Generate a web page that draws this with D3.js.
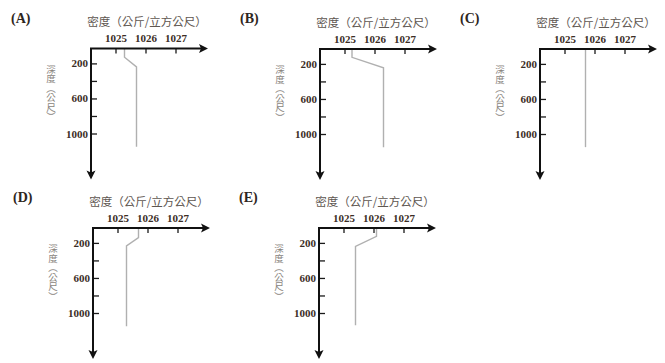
<!DOCTYPE html>
<meta charset="utf-8">
<script src="https://d3js.org/d3.v7.min.js"></script>
<style>
  body { margin: 0; background: #fff; }
</style>
<div id="chart"></div>
<script>

// data
var panelNames = ["A", "B", "C", "D", "E"];
var densityTicks = [1025, 1026, 1027];
var depthTicks = [200, 400, 600, 800, 1000];
var depthLabels = [200, 600, 1000];

// each profile: [depth (m), density (kg/m3)]
var profileA = [[30, 1025.3], [130, 1025.3], [240, 1025.7], [1150, 1025.7]];
var profileB = [[30, 1025.25], [125, 1025.25], [245, 1026.3], [1150, 1026.3]];
var profileC = [[30, 1025.7], [1150, 1025.7]];
var profileD = [[30, 1025.7], [140, 1025.7], [235, 1025.3], [1150, 1025.3]];
var profileE = [[30, 1026.1], [125, 1026.1], [240, 1025.4], [1140, 1025.4]];
var profiles = [profileA, profileB, profileC, profileD, profileE];

var xTitle = "密度（公斤/立方公尺）";
var yTitle = "深度（公尺）";

// panel corner positions
var corners = [[91, 48.5], [320, 49], [540, 49], [93, 228], [319, 228]];

var width = 665, height = 363;
var axisW = 113, axisH = 127;

var svg = d3.select("#chart")
  .append("svg")
    .attr("width", width)
    .attr("height", height);

var x = d3.scaleLinear()
  .domain([1025, 1027])
  .range([24.5, 84.5]);

var y = d3.scaleLinear()
  .domain([30, 1000])
  .range([0, 85]);

var line = d3.line()
  .x(function(d) { return x(d[1]); })
  .y(function(d) { return y(d[0]); });

panelNames.forEach(function(name, i) {
  var g = svg.append("g")
    .attr("transform", "translate(" + corners[i][0] + "," + corners[i][1] + ")");

  // panel letter
  g.append("text")
    .attr("x", -80)
    .attr("y", -26)
    .style("font-family", "'Liberation Serif', serif")
    .style("font-weight", "bold")
    .style("font-size", "14px")
    .style("fill", "#2e2620")
    .text("(" + name + ")");

  // x title
  g.append("text")
    .attr("x", 56)
    .attr("y", -22.5)
    .attr("text-anchor", "middle")
    .style("font-family", "'Noto Sans CJK TC', sans-serif")
    .style("font-size", "11.5px")
    .style("fill", "#5e5650")
    .text(xTitle);

  // y title, vertical writing
  g.append("text")
    .attr("x", -40)
    .attr("y", 16)
    .style("font-family", "'Noto Sans CJK TC', sans-serif")
    .style("font-size", "9.5px")
    .style("fill", "#8a8580")
    .style("writing-mode", "vertical-rl")
    .text(yTitle);

  // x ticks
  var xa = g.append("g")
    .call(d3.axisTop(x).tickValues(densityTicks).tickSize(-5).tickPadding(6.5)
      .tickFormat(d3.format("d")));
  // y ticks
  var ya = g.append("g")
    .call(d3.axisLeft(y).tickValues(depthTicks).tickSize(-6).tickPadding(3)
      .tickFormat(function(d) { return depthLabels.indexOf(d) >= 0 ? d : ""; }));

  [xa, ya].forEach(function(a) {
    a.select(".domain").remove();
    a.selectAll(".tick line").attr("stroke", "#1a1a1a").attr("stroke-width", 1.3);
    a.selectAll(".tick text")
      .style("font-family", "'Liberation Serif', serif")
      .style("font-weight", "bold")
      .style("font-size", "11px")
      .style("fill", "#3b2e25");
  });

  // profile
  g.append("path")
    .datum(profiles[i])
    .attr("d", line)
    .attr("fill", "none")
    .attr("stroke", "#b0b0b0")
    .attr("stroke-width", 1.4);

  // axes with arrows
  g.append("path")
    .attr("d", "M0," + axisH + "V0H" + axisW)
    .attr("fill", "none")
    .attr("stroke", "#111")
    .attr("stroke-width", 2);

  g.append("path")
    .attr("d", "M" + (axisW + 4) + ",0L" + (axisW - 5) + ",-4.5L" + (axisW - 3) + ",0L" + (axisW - 5) + ",4.5Z")
    .attr("fill", "#111");
  g.append("path")
    .attr("d", "M0," + (axisH + 4) + "L-4.5," + (axisH - 5) + "L0," + (axisH - 3) + "L4.5," + (axisH - 5) + "Z")
    .attr("fill", "#111");
});

</script>
